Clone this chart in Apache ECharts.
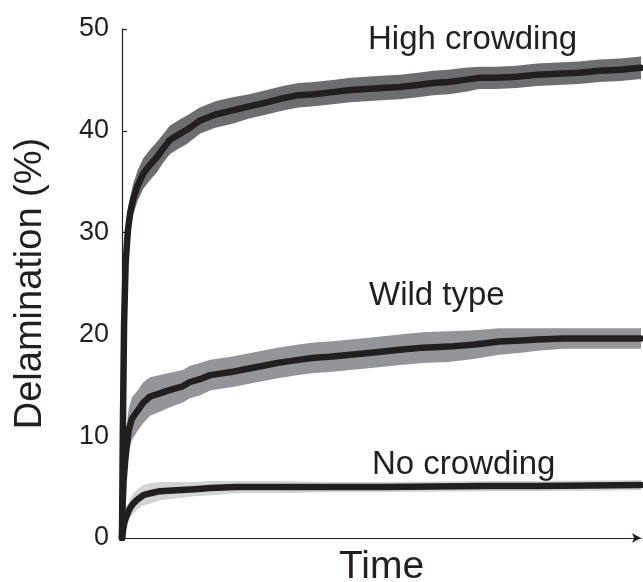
<!DOCTYPE html>
<html>
<head>
<meta charset="utf-8">
<script src="https://cdn.jsdelivr.net/npm/echarts@6/dist/echarts.min.js"></script>
<style>
html,body{margin:0;padding:0;background:#fff;}
#chart{width:643px;height:582px;}
</style>
</head>
<body>
<div id="chart"></div>
<script>
// ---- data (time normalised 0..100) ----
var yTicks = [0, 10, 20, 30, 40, 50];

var hcTime  = [0, 0.15, 0.4, 0.7, 1.15, 1.6, 2.1, 3, 4.1, 5.3, 6.7, 8, 9.2, 10.8, 12.5, 15, 18, 21.3, 24.5, 27.9, 31, 34, 37, 40.6, 44, 47, 50, 53.5, 57, 60, 63, 66, 68.8, 72, 76, 80, 84, 88, 92, 96, 100];
var hcValue = [0, 10, 21, 27, 30.3, 32, 33.2, 34.6, 35.8, 36.6, 37.4, 38.3, 39.1, 39.6, 40.1, 41.0, 41.6, 42.0, 42.4, 42.8, 43.2, 43.5, 43.6, 43.8, 44.0, 44.1, 44.2, 44.3, 44.5, 44.7, 44.8, 45.0, 45.2, 45.2, 45.3, 45.5, 45.6, 45.7, 45.9, 46.0, 46.2];
var hcBand  = [0, 0.8, 1.2, 1.5, 1.5, 1.5, 1.5, 1.5, 1.5, 1.5, 1.5, 1.4, 1.4, 1.4, 1.4, 1.3, 1.3, 1.3, 1.2, 1.2, 1.2, 1.2, 1.2, 1.2, 1.2, 1.2, 1.2, 1.2, 1.2, 1.2, 1.2, 1.2, 1.1, 1.1, 1.1, 1.1, 1.1, 1.1, 1.1, 1.1, 1.1];

var wtTime  = [0, 0.1, 0.3, 0.6, 0.9, 1.3, 1.9, 3, 4.1, 5.4, 7.3, 9, 11.7, 13, 15, 17, 18.3, 21, 24, 27, 30, 34, 37, 40, 44, 48, 53.5, 58, 63, 68, 72.7, 77, 80, 85, 89, 95, 100];
var wtValue = [0, 3, 5.5, 7.5, 9, 10.6, 11.7, 12.5, 13.3, 13.9, 14.2, 14.5, 14.9, 15.3, 15.6, 16.0, 16.1, 16.3, 16.6, 16.9, 17.2, 17.5, 17.7, 17.8, 18.0, 18.2, 18.5, 18.7, 18.8, 19.0, 19.3, 19.4, 19.5, 19.6, 19.6, 19.6, 19.6];
var wtBand  = [0, 0.8, 1.3, 1.7, 2.0, 2.1, 2.1, 2.0, 2.0, 1.9, 1.8, 1.7, 1.6, 1.6, 1.6, 1.5, 1.5, 1.5, 1.5, 1.5, 1.5, 1.5, 1.5, 1.5, 1.5, 1.5, 1.5, 1.5, 1.5, 1.4, 1.3, 1.2, 1.1, 1.0, 1.0, 1.0, 1.0];

var ncTime  = [0, 0.2, 0.5, 0.9, 1.5, 2.2, 3, 4.1, 5.5, 7.3, 10.5, 14, 17, 22, 30, 40, 50, 60, 70, 80, 90, 100];
var ncValue = [0, 0.8, 1.6, 2.2, 2.9, 3.4, 3.8, 4.2, 4.4, 4.6, 4.7, 4.8, 4.9, 5.0, 5.0, 5.0, 5.0, 5.05, 5.1, 5.1, 5.15, 5.2];
var ncBand  = [0, 0.3, 0.5, 0.7, 0.9, 1.0, 1.0, 1.0, 1.0, 0.9, 0.8, 0.7, 0.7, 0.6, 0.6, 0.5, 0.5, 0.5, 0.5, 0.5, 0.5, 0.5];

var labels = ['High crowding', 'Wild type', 'No crowding'];

// ---- build series ----
var INK = '#231f20';
function pairs(t, v) { return t.map(function (x, i) { return [x, v[i]]; }); }
function bandSeries(t, v, w, color) {
  var rows = t.map(function (x, i) { return [x, v[i] - w[i], v[i] + w[i]]; });
  return {
    type: 'custom', silent: true, clip: true,
    encode: { x: 0, y: [1, 2] },
    data: rows,
    renderItem: function (params, api) {
      if (params.dataIndex !== 0) return null;
      var pts = [], i;
      for (i = 0; i < rows.length; i++) pts.push(api.coord([rows[i][0], rows[i][2]]));
      for (i = rows.length - 1; i >= 0; i--) pts.push(api.coord([rows[i][0], rows[i][1]]));
      return { type: 'polygon', shape: { points: pts }, style: { fill: color, stroke: null } };
    }
  };
}
function meanSeries(t, v) {
  return { type: 'line', silent: true, symbol: 'none', data: pairs(t, v),
    lineStyle: { color: INK, width: 6.5, cap: 'round', join: 'round' } };
}

var series = [
  bandSeries(ncTime, ncValue, ncBand, '#d1d3d4'),
  bandSeries(wtTime, wtValue, wtBand, '#939598'),
  bandSeries(hcTime, hcValue, hcBand, '#6d6e70'),
  meanSeries(ncTime, ncValue),
  meanSeries(wtTime, wtValue),
  meanSeries(hcTime, hcValue)
];

var chart = echarts.init(document.getElementById('chart'), null, { renderer: 'canvas' });
var FONT = '"Liberation Sans", Arial, Helvetica, sans-serif';
function label(text, x, y) {
  return { type: 'text', x: x, y: y, silent: true,
    style: { text: text, font: '33px ' + FONT, fill: INK, align: 'left', verticalAlign: 'middle' } };
}
chart.setOption({
  animation: false,
  backgroundColor: '#ffffff',
  textStyle: { fontFamily: FONT, color: INK },
  grid: { left: 122, right: 2, top: 29, bottom: 44, containLabel: false, outerBoundsMode: 'none' },
  xAxis: {
    type: 'value', min: 0, max: 100,
    name: 'Time', nameLocation: 'middle', nameGap: 10,
    nameTextStyle: { fontSize: 39, color: INK, fontFamily: FONT, verticalAlign: 'top' },
    axisLine: { show: true, lineStyle: { color: INK, width: 1.2 }, symbol: ['none', 'arrow'], symbolSize: [7, 9] },
    axisTick: { show: false }, axisLabel: { show: false }, splitLine: { show: false }
  },
  yAxis: {
    type: 'value', min: yTicks[0], max: yTicks[yTicks.length - 1], interval: 10,
    name: 'Delamination (%)', nameLocation: 'middle', nameGap: 72,
    nameTextStyle: { fontSize: 38, color: INK, fontFamily: FONT },
    axisLine: { show: true, lineStyle: { color: INK, width: 1.2 } },
    axisTick: { show: true, inside: true, length: 5, lineStyle: { color: INK, width: 1.2 } },
    axisLabel: { fontSize: 27, color: INK, margin: 13, fontFamily: FONT },
    splitLine: { show: false }
  },
  graphic: [
    label(labels[0], 368, 40),
    label(labels[1], 369, 296),
    label(labels[2], 372, 465)
  ],
  series: series
});
</script>
</body>
</html>
